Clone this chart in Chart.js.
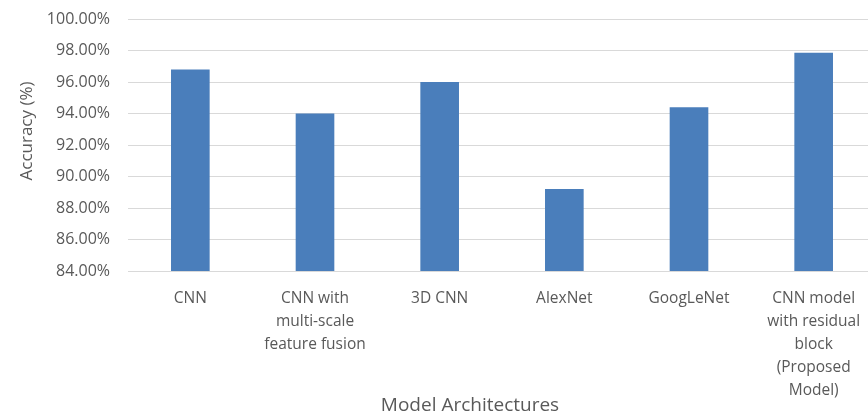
<!DOCTYPE html>
<html>
<head>
<meta charset="utf-8">
<script src="https://cdn.jsdelivr.net/npm/chart.js@4/dist/chart.umd.min.js"></script>
<style>
  html, body { margin: 0; padding: 0; background: #fff; overflow: hidden; }
  #wrap { width: 880px; height: 417px; }
</style>
</head>
<body>
<div id="wrap"><canvas id="c" width="880" height="417"></canvas></div>
<script>
// Model names (multi-line labels) and their accuracy in percent
const categories = [
  ['CNN'],
  ['CNN with', 'multi-scale', 'feature fusion'],
  ['3D CNN'],
  ['AlexNet'],
  ['GoogLeNet'],
  ['CNN model', 'with residual', 'block', '(Proposed', 'Model)']
];
const accuracy = [96.8, 94.0, 96.0, 89.2, 94.4, 97.85];
const yMin = 84;
const yMax = 100;
const yStep = 2;
const xTitle = 'Model Architectures';
const yTitle = 'Accuracy (%)';

const textColor = '#595959';
const fontFamily = '"Open Sans", "Liberation Sans", sans-serif';

// Draws both axis titles at fixed spots around the plot
const axisTitlePlugin = {
  id: 'axisTitles',
  afterDraw(chart) {
    const ctx = chart.ctx;
    ctx.save();
    ctx.fillStyle = textColor;
    ctx.textAlign = 'center';
    ctx.textBaseline = 'middle';
    ctx.font = '19px ' + fontFamily;
    ctx.fillText(xTitle, 470, 406);
    ctx.translate(27, 131);
    ctx.rotate(-Math.PI / 2);
    ctx.font = '17px ' + fontFamily;
    ctx.fillText(yTitle, 0, 0);
    ctx.restore();
  }
};

new Chart(document.getElementById('c'), {
  type: 'bar',
  data: {
    labels: categories,
    datasets: [{
      data: accuracy,
      backgroundColor: '#4a7ebb',
      borderWidth: 0,
      barPercentage: 0.31,
      categoryPercentage: 1.0
    }]
  },
  options: {
    responsive: false,
    animation: false,
    layout: { padding: { top: 19, right: 4, left: 0, bottom: 0 } },
    plugins: {
      legend: { display: false },
      tooltip: { enabled: false }
    },
    scales: {
      x: {
        grid: { display: false, drawTicks: false },
        border: { display: true, color: '#d9d9d9' },
        ticks: {
          color: textColor,
          font: { family: fontFamily, size: 15.5, lineHeight: 1.48 },
          padding: 16,
          maxRotation: 0,
          autoSkip: false
        },
        afterFit(scale) {
          scale.height = 146;
          scale.paddingLeft = 0;
          scale.paddingRight = 0;
        }
      },
      y: {
        min: yMin,
        max: yMax,
        grid: { color: '#d9d9d9', drawTicks: false },
        border: { display: false },
        ticks: {
          stepSize: yStep,
          color: textColor,
          font: { family: fontFamily, size: 16 },
          padding: 18,
          callback: v => v.toFixed(2) + '%'
        },
        afterFit(scale) {
          scale.width = 128;
          scale.paddingTop = 0;
          scale.paddingBottom = 0;
        }
      }
    }
  },
  plugins: [axisTitlePlugin]
});
</script>
</body>
</html>
